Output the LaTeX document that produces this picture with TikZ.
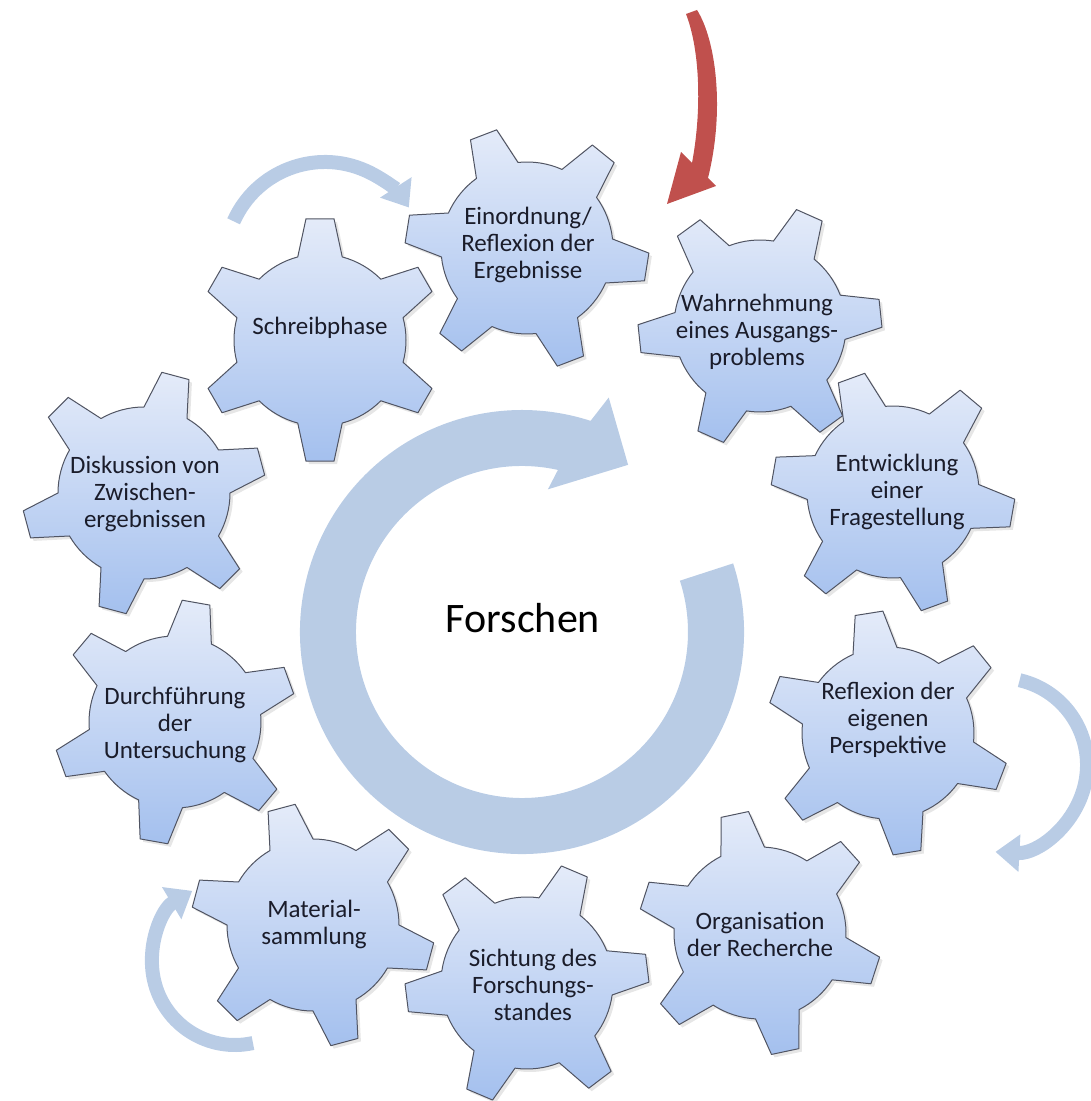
\documentclass[tikz,border=0pt]{standalone}
\usepackage{fontspec}
\setmainfont{Carlito}
\usetikzlibrary{arrows.meta,shadows}

\definecolor{gearTop}{RGB}{228,235,249}
\definecolor{gearBot}{RGB}{164,192,238}
\definecolor{gearLine}{RGB}{80,84,98}
\definecolor{ringBlue}{RGB}{185,204,229}
\definecolor{arrowRed}{RGB}{192,80,77}
\definecolor{labelInk}{RGB}{26,28,42}

\begin{document}
\begin{tikzpicture}[x=1pt,y=1pt,line join=round,
        gear/.style={draw=gearLine,line width=1pt,top color=gearTop,bottom color=gearBot,
          drop shadow={shadow xshift=3pt,shadow yshift=-3pt,opacity=0.2}},
        gearlabel/.style={align=center,text=labelInk,font=\fontsize{25}{27}\selectfont},
        turn/.style={draw=ringBlue,line width=14pt,-{Triangle[width=36pt,length=24pt]}},
        pics/cog/.style={code={
          \path[gear] (#1-15:86pt)
            \foreach \k in {0,...,5}{
              -- (#1+60*\k-6.6:122pt) -- (#1+60*\k+6.6:122pt) -- (#1+60*\k+15:86pt)
              arc[start angle=#1+60*\k+15,end angle=#1+60*\k+45,radius=86pt]
            } -- cycle;
        }}]
        \useasboundingbox (0,0) rectangle (1091,1101);

        % big cycle arrow in the middle
        \begin{scope}[shift={(522,469)}]
          \fill[ringBlue] (18:222pt) arc[start angle=18,end angle=-288,radius=222pt]
            -- (69.7:250pt) -- (57.6:198pt) -- (79.7:145pt) -- (77.5:166pt)
            arc[start angle=-282.5,end angle=18,radius=166pt] -- cycle;
        \end{scope}
        \node[text=black,font=\fontsize{42}{46}\selectfont] (forschen) at (523,483) {Forschen};

        % the ten gears
        \pic at (527,853) {cog=51};
        \pic at (760,775) {cog=6};
        \pic at (893,609) {cog=50};
        \pic at (888,368) {cog=39};
        \pic at (760,168) {cog=42};
        \pic at (527,118) {cog=7};
        \pic at (313,176) {cog=45};
        \pic at (175,379) {cog=20};
        \pic at (144,608) {cog=15};
        \pic at (320,761) {cog=30};

        \node[gearlabel] (einordnung) at (528,856) {Einordnung/\\Reflexion der\\Ergebnisse};
        \node[gearlabel] (wahrnehmung) at (757,769) {Wahrnehmung\\eines Ausgangs-\\problems};
        \node[gearlabel] (entwicklung) at (897,609) {Entwicklung\\einer\\Fragestellung};
        \node[gearlabel] (perspektive) at (888,381) {Reflexion der\\eigenen\\Perspektive};
        \node[gearlabel] (recherche) at (760,167) {Organisation\\der Recherche};
        \node[gearlabel] (sichtung) at (533,116) {Sichtung des\\Forschungs-\\standes};
        \node[gearlabel] (material) at (314,177) {Material-\\sammlung};
        \node[gearlabel] (durchfuehrung) at (175,376) {Durchführung\\der\\Untersuchung};
        \node[gearlabel] (diskussion) at (145,607) {Diskussion von\\Zwischen-\\ergebnissen};
        \node[gearlabel] (schreiben) at (320,773) {Schreibphase};

        % small turning arrows
        \coordinate (turnTop) at (325,839);
        \coordinate (turnRight) at (1000,336);
        \coordinate (turnLeft) at (235,139);
        \draw[turn] (turnTop) ++(156:100pt) arc[start angle=156,end angle=33,radius=100pt];
        \draw[turn] (turnRight) ++(77:87pt) arc[start angle=77,end angle=-93,radius=87pt];
        \draw[turn] (turnLeft) ++(282.5:83pt) arc[start angle=282.5,end angle=121,radius=83pt];

        % red entry arrow
        \fill[arrowRed] (697,1091) .. controls (716,1061) and (725,991) .. (708,923)
          -- (716,915) -- (667,897) -- (681,949) -- (692,938)
          .. controls (702,991) and (700,1051) .. (686,1087) -- cycle;
\end{tikzpicture}
\end{document}
